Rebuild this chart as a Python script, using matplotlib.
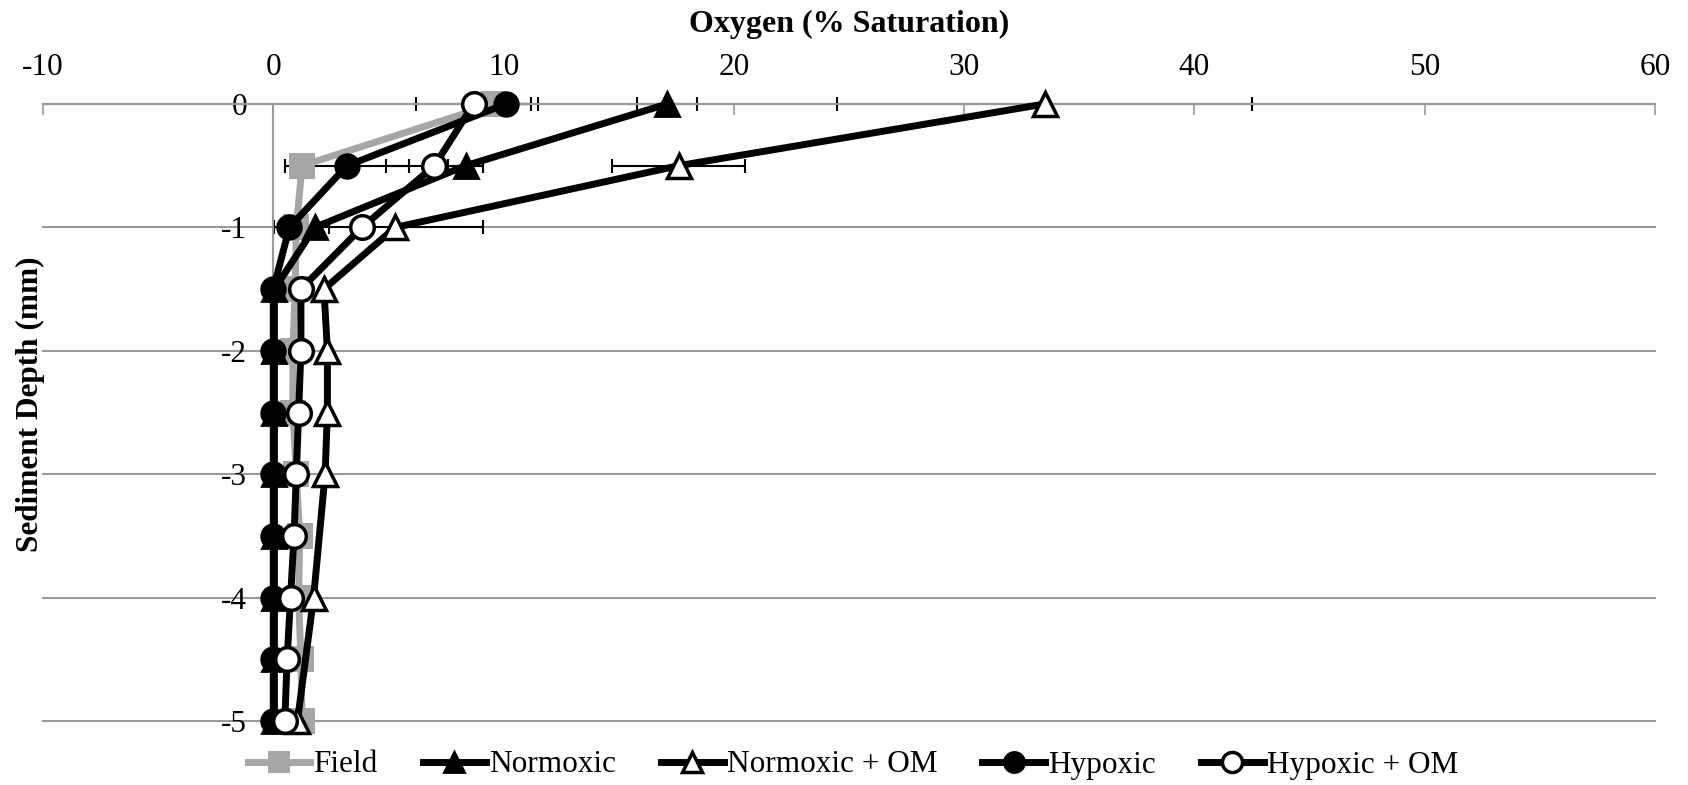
import matplotlib
matplotlib.use("Agg")
import matplotlib.pyplot as plt
import numpy as np

# depth profile, mm (0 = sediment surface)
depth = [0, -0.5, -1, -1.5, -2, -2.5, -3, -3.5, -4, -4.5, -5]

# oxygen, % saturation (nan = no reading)
field = [9.6, 1.25, 1.0, 0.95, 0.85, 0.85, 1.0, 1.15, 1.1, 1.2, 1.25]
normoxic = [17.1, 8.35, 1.8, 0.05, 0.05, 0.05, 0.05, 0.05, 0.05, 0.05, 0.05]
normoxic_om = [33.5, 17.6, 5.3, 2.2, 2.35, 2.35, 2.25, np.nan, 1.75, np.nan, 1.05]
hypoxic = [10.1, 3.2, 0.7, 0.0, 0.0, 0.0, 0.0, 0.0, 0.0, 0.0, 0.0]
hypoxic_om = [8.7, 7.0, 3.85, 1.2, 1.2, 1.1, 1.0, 0.9, 0.75, 0.6, 0.5]

# error bars (x direction)
normoxic_err = [1.3, 0.75, 0.6, 0, 0, 0, 0, 0, 0, 0, 0]
normoxic_om_err = [9.0, 2.9, 3.8, 0, 0, 0, 0, 0, 0, 0, 0]
hypoxic_err = [1.4, 2.7, 0.65, 0, 0, 0, 0, 0, 0, 0, 0]
hypoxic_om_err = [2.5, 2.1, 0, 0, 0, 0, 0, 0, 0, 0, 0]

xticks = [-10, 0, 10, 20, 30, 40, 50, 60]
yticks = [0, -1, -2, -3, -4, -5]

plt.rcParams["font.family"] = ["Liberation Serif", "DejaVu Serif"]
plt.rcParams["axes.unicode_minus"] = False
GRAY = "#a6a6a6"
AXGRAY = "#999999"
FS = 22.5

W, H = 1688, 785
fig = plt.figure(figsize=(W / 100, H / 100), dpi=100)
ax = fig.add_axes([43 / W, 1 - 721 / H, (1655 - 43) / W, (721 - 104) / H])
ax.set_xlim(-10, 60)
ax.set_ylim(-5, 0)

series = [
    ("Field", field, None, dict(color=GRAY, marker="s", ms=19, mfc=GRAY, mec=GRAY, mew=0)),
    ("Normoxic", normoxic, normoxic_err, dict(color="black", marker="^", ms=17, mfc="black", mec="black", mew=2)),
    ("Normoxic + OM", normoxic_om, normoxic_om_err, dict(color="black", marker="^", ms=17, mfc="white", mec="black", mew=2.5)),
    ("Hypoxic", hypoxic, hypoxic_err, dict(color="black", marker="o", ms=17, mfc="black", mec="black", mew=2)),
    ("Hypoxic + OM", hypoxic_om, hypoxic_om_err, dict(color="black", marker="o", ms=17, mfc="white", mec="black", mew=2.5)),
]

d = np.array(depth)
handles = []
for i, (name, vals, err, style) in enumerate(series):
    v = np.array(vals, dtype=float)
    ok = ~np.isnan(v)
    if err is not None:
        e = np.array(err, dtype=float)
        has = ok & (e > 0)
        eb = ax.errorbar(v[has], d[has], xerr=e[has], fmt="none", ecolor="black",
                         elinewidth=1.5, capsize=5, capthick=1.5, zorder=2)
        for art in eb.lines[1] + eb.lines[2]:
            art.set_clip_on(False)
    ln, = ax.plot(v[ok], d[ok], lw=5, label=name, zorder=3 + i, clip_on=False, **style)
    handles.append(ln)

# axes styling: x axis on top, y axis line at x = 0
ax.xaxis.tick_top()
ax.xaxis.set_label_position("top")
ax.set_xticks(xticks)
ax.set_yticks(yticks)
ax.tick_params(axis="x", direction="in", length=8, width=1.2, color=AXGRAY,
               labelsize=FS, pad=16)
ax.tick_params(axis="y", length=0, labelsize=FS, pad=19)
for s in ["right", "bottom"]:
    ax.spines[s].set_visible(False)
ax.spines["top"].set_color(AXGRAY)
ax.spines["top"].set_linewidth(1.5)
ax.spines["left"].set_position(("data", 0))
ax.spines["left"].set_color(AXGRAY)
ax.spines["left"].set_linewidth(1.5)
ax.yaxis.grid(True, color=AXGRAY, lw=1.5)
ax.set_axisbelow(True)
for g in ax.get_ygridlines():
    g.set_clip_on(False)

ax.set_xlabel("Oxygen (% Saturation)", fontsize=23, fontweight="bold", labelpad=15)
fig.text(30 / W, 1 - 404 / H, "Sediment Depth (mm)", rotation=90, fontsize=FS,
         fontweight="bold", ha="center", va="center")

fig.legend(handles=handles, loc="center", bbox_to_anchor=(853 / W, 1 - 765 / H),
           ncol=5, frameon=False, fontsize=FS, handlelength=2.0, handletextpad=0.1,
           columnspacing=1.45, markerscale=0.85)

fig.savefig("out.png", dpi=100)
